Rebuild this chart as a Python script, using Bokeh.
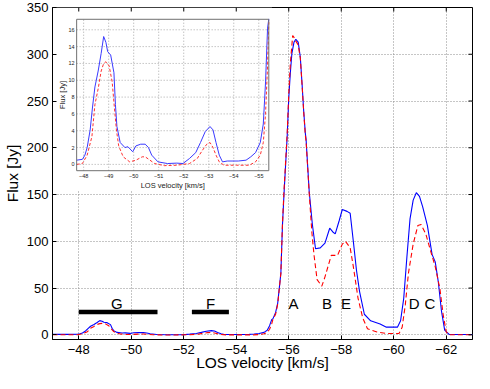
import math
from bokeh.plotting import figure
from bokeh.models import Range1d, FixedTicker
from bokeh.core.properties import value
from bokeh.embed import file_html
from bokeh.resources import INLINE

# ---------------- data ----------------
vel_blue = [-47.00, -47.40, -47.72, -47.95, -48.05, -48.14, -48.26, -48.35, -48.45, -48.58,
            -48.70, -48.80, -48.89, -48.96, -49.08, -49.21, -49.27, -49.33, -49.46, -49.65,
            -49.77, -49.96, -50.09, -50.28, -50.46, -50.59, -50.72, -50.97, -51.35, -51.72,
            -51.97, -52.23, -52.48, -52.67, -52.86, -53.05, -53.17, -53.29, -53.42, -53.55,
            -53.74, -54.18, -54.49, -54.68, -54.87, -55.06, -55.18, -55.27, -55.35, -55.40,
            -55.50, -55.58, -55.70, -55.76, -55.82, -55.94, -56.00, -56.06, -56.12, -56.20,
            -56.27, -56.36, -56.44, -56.51, -56.57, -56.63, -56.66, -56.78, -56.90, -57.02,
            -57.20, -57.38, -57.56, -57.68, -57.77, -57.92, -58.04, -58.22, -58.34, -58.46,
            -58.58, -58.70, -58.88, -59.12, -59.48, -59.72, -60.14, -60.26, -60.38, -60.50,
            -60.62, -60.74, -60.86, -60.98, -61.10, -61.28, -61.46, -61.58, -61.70, -61.82,
            -61.94, -62.12, -63.00]
flux_blue = [0.5, 0.5, 0.5, 0.6, 1.1, 2.0, 4.1, 6.7, 9.2, 11.1,
             13.2, 15.2, 14.5, 13.4, 13.0, 10.9, 7.1, 4.5, 2.6, 2.0,
             2.1, 1.5, 2.2, 2.4, 2.4, 2.0, 1.1, 0.3, 0.1, 0.15,
             0.1, 0.7, 1.4, 2.6, 3.9, 4.5, 4.1, 2.6, 1.1, 0.3,
             0.4, 0.4, 0.5, 0.9, 1.4, 2.6, 4.8, 9.8, 16.2, 17.3,
             24, 34, 66, 117, 151, 212, 253, 280, 301, 313,
             316, 313, 297, 267, 239, 216, 209, 153, 118, 92,
             93, 98, 114, 110, 108, 122, 134, 132, 130, 100,
             69, 46, 22, 15, 11.6, 8.2, 8.2, 15, 39, 83,
             124, 144, 152, 148, 137, 117, 86, 78, 56, 25,
             5, 0.3, 0.3]

vel_red = [-47.00, -47.72, -47.95, -48.14, -48.33, -48.45, -48.58, -48.70, -48.80, -48.89,
           -49.02, -49.14, -49.23, -49.31, -49.40, -49.58, -49.84, -50.09, -50.34, -50.46,
           -50.65, -50.84, -51.22, -51.72, -52.23, -52.54, -52.73, -52.92, -53.05, -53.17,
           -53.29, -53.42, -53.61, -54.11, -54.62, -54.87, -55.06, -55.18, -55.27, -55.35,
           -55.40, -55.50, -55.58, -55.70, -55.76, -55.82, -55.94, -56.00, -56.06, -56.15,
           -56.20, -56.27, -56.36, -56.44, -56.51, -56.57, -56.63, -56.66, -56.78, -56.88,
           -56.96, -57.08, -57.26, -57.38, -57.62, -57.86, -58.04, -58.16, -58.34, -58.46,
           -58.64, -58.82, -59.00, -59.36, -59.72, -60.20, -60.32, -60.44, -60.56, -60.74,
           -60.92, -61.04, -61.22, -61.40, -61.58, -61.76, -61.88, -62.00, -62.12, -63.00]
flux_red = [0.0, 0.0, 0.1, 1.1, 3.3, 7.1, 9.0, 11.1, 12.0, 12.2,
            11.7, 9.8, 6.7, 4.1, 2.2, 0.9, 0.3, 0.5, 0.9, 0.9,
            0.5, 0.1, -0.15, -0.1, 0.1, 0.7, 1.6, 2.4, 2.6, 2.0,
            1.1, 0.3, -0.1, -0.1, -0.1, 0.3, 1.1, 2.6, 6.0, 11.7,
            16.9, 22, 33, 66, 118, 155, 215, 257, 290, 320,
            318, 314, 310, 296, 266, 238, 214, 207, 151, 110,
            86, 59, 52, 62, 85, 85, 97, 100, 93, 73,
            39, 18, 6.5, 3.0, 1.4, 1.4, 8.0, 32, 66, 97,
            117, 118, 108, 90, 73, 49, 22, 3.0, 0.0, 0.0]

x_ticks = [-48, -50, -52, -54, -56, -58, -60, -62]
x_tick_labels = ["\u221248", "\u221250", "\u221252", "\u221254", "\u221256", "\u221258", "\u221260", "\u221262"]
y_ticks = [0, 50, 100, 150, 200, 250, 300, 350]

# component labels and bars
comp_names = ["G", "F", "A", "B", "E", "D", "C"]
comp_x = [-49.45, -53.02, -56.18, -57.46, -58.18, -60.78, -61.38]
comp_y = [33.7] * 7
bar_x0 = [-48.0, -52.31]
bar_x1 = [-51.0, -53.72]
bar_y = [24.5, 24.5]

# inset
inset_xlim = (-47.72, -55.40)
inset_ylim = (-0.75, 17.25)
inset_xticks = [-48, -49, -50, -51, -52, -53, -54, -55]
inset_xtick_labels = ["\u221248", "\u221249", "\u221250", "\u221251", "\u221252", "\u221253", "\u221254", "\u221255"]
inset_yticks = [0, 2, 4, 6, 8, 10, 12, 14, 16]
# inset frame placement in main data units
inset_target_x = (-47.92, -55.24)
inset_target_y = (175.5, 337.4)
inset_bg = dict(left=-47.0, right=-55.36, bottom=154.0, top=350.0)

FONT = "Liberation Sans"
X_START, X_END = -47, -63
Y_START, Y_END = -5, 350

p = figure(width=474, height=373, x_range=Range1d(X_START, X_END), y_range=Range1d(Y_START, Y_END),
           output_backend="svg", toolbar_location=None,
           min_border_left=10, min_border_right=2, min_border_top=7, min_border_bottom=0)

p.outline_line_color = "black"
p.outline_line_width = 1
p.background_fill_color = "white"
p.border_fill_color = "white"

p.xaxis.ticker = FixedTicker(ticks=x_ticks)
p.xaxis.major_label_overrides = dict(zip(x_ticks, x_tick_labels))
p.yaxis.ticker = FixedTicker(ticks=y_ticks)
for ax in (p.xaxis[0], p.yaxis[0]):
    ax.major_tick_in = 4
    ax.major_tick_out = 0
    ax.minor_tick_line_color = None
    ax.axis_line_color = "black"
    ax.major_tick_line_color = "black"
    ax.major_label_text_font = FONT
    ax.major_label_text_font_size = "13px"
    ax.major_label_text_color = "black"
    ax.axis_label_text_font = FONT
    ax.axis_label_text_font_size = "15.5px"
    ax.axis_label_text_font_style = "normal"
    ax.axis_label_text_color = "black"
    ax.major_label_standoff = 4
    ax.axis_label_standoff = 3
p.xaxis.axis_label_standoff = -3
p.xaxis.major_label_standoff = 5
p.xaxis.axis_label = "LOS velocity [km/s]"
p.yaxis.axis_label = "Flux [Jy]"

p.xgrid.ticker = FixedTicker(ticks=x_ticks)
p.ygrid.ticker = FixedTicker(ticks=y_ticks)
p.grid.grid_line_color = "#8c8c8c"
p.grid.grid_line_dash = "1 2"
p.grid.grid_line_width = 1

# main curves
p.line(vel_blue, flux_blue, line_color="#0000ff", line_width=1.1)
p.line(vel_red, flux_red, line_color="#ff0000", line_width=1.1, line_dash="5 3")

# component bars and labels
p.segment(x0=bar_x0, y0=bar_y, x1=bar_x1, y1=bar_y, line_color="black", line_width=4.5,
          line_cap="butt")
p.text(x=comp_x, y=comp_y, text=comp_names, text_align="center", text_baseline="middle",
       text_font=value(FONT), text_font_size=value("15px"), text_color="black")

# ---------------- inset ----------------
p.quad(**inset_bg, fill_color="white", line_color=None)

# tick marks on the top and right edges of the box (inward)
p.ray(x=x_ticks, y=[Y_END] * len(x_ticks), length=4, length_units="screen",
      angle=-math.pi / 2, line_color="black", line_width=1)
p.ray(x=[X_END] * len(y_ticks), y=y_ticks, length=4, length_units="screen",
      angle=math.pi, line_color="black", line_width=1)

sub = p.subplot(x_source=Range1d(*inset_xlim), y_source=Range1d(*inset_ylim),
                x_target=Range1d(*inset_target_x), y_target=Range1d(*inset_target_y))

ix0, ix1 = inset_xlim
iy0, iy1 = inset_ylim
sub.segment(x0=inset_xticks, y0=[iy0] * len(inset_xticks), x1=inset_xticks, y1=[iy1] * len(inset_xticks),
            line_color="#a8a8a8", line_dash="1 2", line_width=1)
sub.segment(x0=[ix0] * len(inset_yticks), y0=inset_yticks, x1=[ix1] * len(inset_yticks), y1=inset_yticks,
            line_color="#a8a8a8", line_dash="1 2", line_width=1)

in_vb = [v for v in vel_blue if ix1 <= v <= ix0 + 0.001]
in_fb = [f for v, f in zip(vel_blue, flux_blue) if ix1 <= v <= ix0 + 0.001]
in_vr = [v for v in vel_red if ix1 <= v <= ix0 + 0.001]
in_fr = [f for v, f in zip(vel_red, flux_red) if ix1 <= v <= ix0 + 0.001]
sub.line(in_vb, in_fb, line_color="#3a3aff", line_width=1)
sub.line(in_vr, in_fr, line_color="#ff3030", line_width=1, line_dash="3 2")

sub.quad(left=[ix0], right=[ix1], bottom=[iy0], top=[iy1], fill_color=None,
         line_color="#707070", line_width=1)

sub.text(x=inset_xticks, y=[iy0] * len(inset_xticks), text=inset_xtick_labels,
         text_align="center", text_baseline="top", y_offset=3,
         text_font=value(FONT), text_font_size=value("5.5px"), text_color="#222222")
sub.text(x=[ix0] * len(inset_yticks), y=inset_yticks, text=[str(t) for t in inset_yticks],
         text_align="right", text_baseline="middle", x_offset=-2,
         text_font=value(FONT), text_font_size=value("5.5px"), text_color="#222222")
sub.text(x=[(ix0 + ix1) / 2], y=[iy0], text=["LOS velocity [km/s]"],
         text_align="center", text_baseline="top", y_offset=10,
         text_font=value(FONT), text_font_size=value("7.5px"), text_color="#222222")
sub.text(x=[ix0], y=[(iy0 + iy1) / 2], text=["Flux [Jy]"], angle=math.pi / 2,
         text_align="center", text_baseline="bottom", x_offset=-10,
         text_font=value(FONT), text_font_size=value("7.5px"), text_color="#222222")

open("out.html", "w").write(file_html(p, INLINE))
